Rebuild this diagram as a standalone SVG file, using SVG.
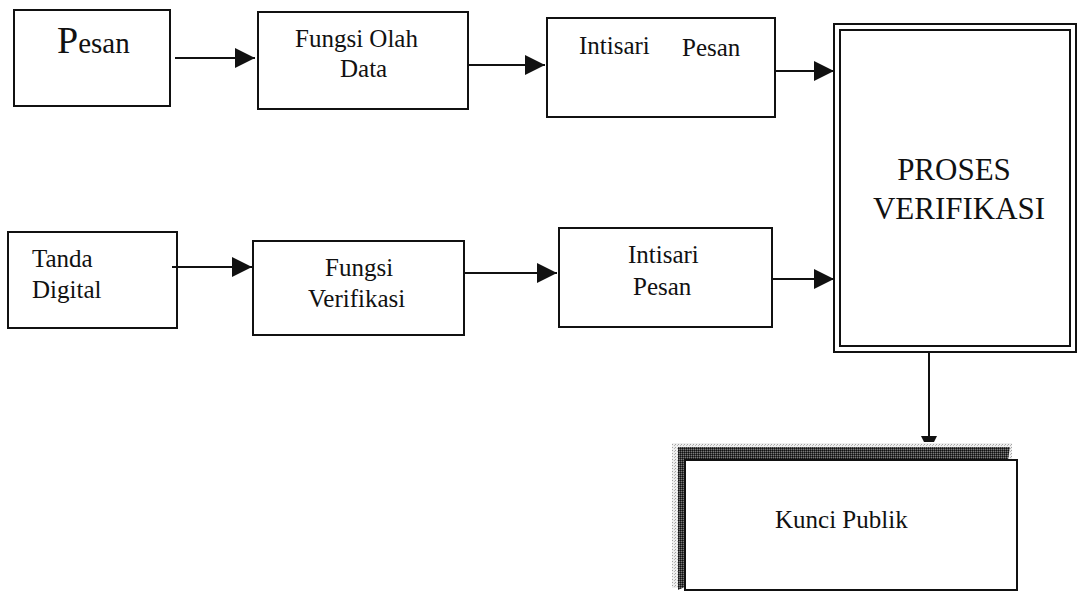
<svg xmlns="http://www.w3.org/2000/svg" width="1077" height="600" viewBox="0 0 1077 600">
  <style>
    .box { fill: #fff; stroke: #111; stroke-width: 2; }
    text { font-family: 'Liberation Serif', 'DejaVu Serif', serif; font-size: 25px; fill: #111; }
    .big { font-size: 31px; }
    .wire { stroke: #111; stroke-width: 2; fill: none; }
  </style>
  <defs>
    <marker id="head" viewBox="0 0 20 20" refX="20" refY="10" markerWidth="20" markerHeight="20" markerUnits="userSpaceOnUse" orient="auto">
      <path d="M0,0 L20,10 L0,20 Z" fill="#111"/>
    </marker>
    <pattern id="grain" width="3" height="3" patternUnits="userSpaceOnUse">
      <rect width="3" height="3" fill="#e4e4e4"/>
      <rect width="1" height="1" fill="#666"/>
      <rect x="2" y="1" width="1" height="1" fill="#888"/>
    </pattern>
    <pattern id="dark" width="2" height="2" patternUnits="userSpaceOnUse">
      <rect width="2" height="2" fill="#3a3a3a"/>
      <rect width="1" height="1" fill="#111"/>
      <rect x="1" y="1" width="1" height="1" fill="#7a7a7a"/>
    </pattern>
  </defs>

  <rect width="1077" height="600" fill="#fff"/>

  <!-- top row -->
  <g id="pesan">
    <rect class="box" x="14" y="10" width="156" height="96"/>
    <text font-family="Liberation Serif, DejaVu Serif, serif" x="57" y="53"><tspan font-size="38">P</tspan><tspan font-size="29">esan</tspan></text>
  </g>
  <g id="fungsi-olah-data">
    <rect class="box" x="258" y="12" width="210" height="97"/>
    <text font-family="Liberation Serif, DejaVu Serif, serif" x="295" y="47">Fungsi Olah</text>
    <text font-family="Liberation Serif, DejaVu Serif, serif" x="340" y="77">Data</text>
  </g>
  <g id="intisari-pesan-1">
    <rect class="box" x="547" y="18" width="228" height="99"/>
    <text font-family="Liberation Serif, DejaVu Serif, serif" x="579" y="54">Intisari</text>
    <text font-family="Liberation Serif, DejaVu Serif, serif" x="682" y="56">Pesan</text>
  </g>

  <!-- verification block (double border) -->
  <g id="proses-verifikasi">
    <rect class="box" x="834" y="24" width="242" height="328"/>
    <rect x="840" y="30" width="230" height="316" fill="none" stroke="#111" stroke-width="2"/>
    <text class="big" font-family="Liberation Serif, DejaVu Serif, serif" x="954" y="180" text-anchor="middle">PROSES</text>
    <text class="big" font-family="Liberation Serif, DejaVu Serif, serif" x="959" y="219" text-anchor="middle">VERIFIKASI</text>
  </g>

  <!-- bottom row -->
  <g id="tanda-digital">
    <rect class="box" x="8" y="232" width="169" height="96"/>
    <text font-family="Liberation Serif, DejaVu Serif, serif" x="32" y="267">Tanda</text>
    <text font-family="Liberation Serif, DejaVu Serif, serif" x="32" y="298">Digital</text>
  </g>
  <g id="fungsi-verifikasi">
    <rect class="box" x="253" y="241" width="211" height="94"/>
    <text font-family="Liberation Serif, DejaVu Serif, serif" x="325" y="276">Fungsi</text>
    <text font-family="Liberation Serif, DejaVu Serif, serif" x="308" y="307">Verifikasi</text>
  </g>
  <g id="intisari-pesan-2">
    <rect class="box" x="559" y="228" width="213" height="99"/>
    <text font-family="Liberation Serif, DejaVu Serif, serif" x="628" y="263">Intisari</text>
    <text font-family="Liberation Serif, DejaVu Serif, serif" x="633" y="295">Pesan</text>
  </g>

  <!-- public key with shaded edge -->
  <g id="kunci-publik">
    <rect x="672" y="443" width="340" height="145" fill="url(#grain)" opacity="0.6"/>
    <path d="M678,447 L1010,447 L1008,460 L687,460 L687,586 L678,590 Z" fill="url(#dark)"/>
    <rect class="box" x="685" y="460" width="332" height="130"/>
    <text font-family="Liberation Serif, DejaVu Serif, serif" x="775" y="528">Kunci Publik</text>
  </g>

  <!-- connectors -->
  <g id="connectors">
    <line class="wire" x1="175" y1="58" x2="255" y2="58" marker-end="url(#head)"/>
    <line class="wire" x1="468" y1="65" x2="545" y2="65" marker-end="url(#head)"/>
    <line class="wire" x1="775" y1="71" x2="834" y2="71" marker-end="url(#head)"/>
    <line class="wire" x1="172" y1="267" x2="252" y2="267" marker-end="url(#head)"/>
    <line class="wire" x1="464" y1="273" x2="557" y2="273" marker-end="url(#head)"/>
    <line class="wire" x1="772" y1="279" x2="834" y2="279" marker-end="url(#head)"/>
    <line class="wire" x1="929" y1="352" x2="929" y2="438"/>
    <path d="M921,436 L937,436 L934,442 L924,442 Z" fill="#111"/>
  </g>
</svg>
